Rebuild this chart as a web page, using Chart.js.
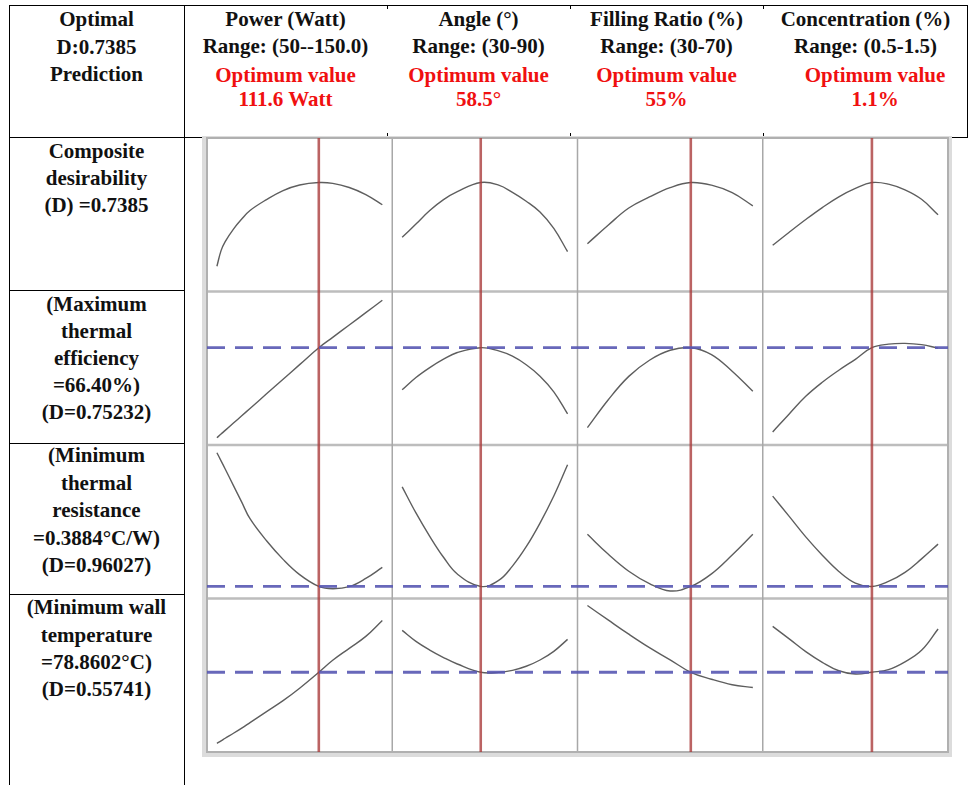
<!DOCTYPE html>
<html>
<head>
<meta charset="utf-8">
<script src="https://cdn.jsdelivr.net/npm/chart.js@4.4.1/dist/chart.umd.min.js"></script>
<style>
  body { margin: 0; width: 969px; height: 785px; overflow: hidden; position: relative; background: #fff;
         font-family: "Liberation Serif", "Times New Roman", serif; font-weight: bold; font-size: 21px; color: #111; }
  .t { position: absolute; text-align: center; white-space: nowrap; }
  .red { color: #f01010; }
  .ln { position: absolute; background: #000; }
  canvas#optPlot { position: absolute; left: 202px; top: 136px; }
</style>
</head>
<body>
<!-- table rules -->
<div class="ln" style="left:9px;top:5px;width:959px;height:1px"></div>
<div class="ln" style="left:967px;top:5px;width:1px;height:133px"></div>
<div class="ln" style="left:9px;top:5px;width:1px;height:780px"></div>
<div class="ln" style="left:184px;top:5px;width:1px;height:780px"></div>
<div class="ln" style="left:9px;top:137px;width:193px;height:1px"></div>
<div class="ln" style="left:952px;top:137px;width:16px;height:1px"></div>
<div class="ln" style="left:9px;top:290px;width:175px;height:1px"></div>
<div class="ln" style="left:9px;top:443px;width:175px;height:1px"></div>
<div class="ln" style="left:9px;top:594px;width:175px;height:1px"></div>
<div class="ln" style="left:387px;top:5px;width:1px;height:4px"></div>
<div class="ln" style="left:570px;top:5px;width:1px;height:4px"></div>
<div class="ln" style="left:763px;top:5px;width:1px;height:4px"></div>
<div class="ln" style="left:387px;top:133px;width:1px;height:4px"></div>
<div class="ln" style="left:570px;top:133px;width:1px;height:4px"></div>
<div class="ln" style="left:763px;top:133px;width:1px;height:4px"></div>

<!-- header -->
<div class="t" style="left:9px;width:175px;top:6px;line-height:27.5px">Optimal<br>D:0.7385<br>Prediction</div>
<div class="t" style="left:184px;width:203px;top:6px;line-height:27px">Power (Watt)<br>Range: (50--150.0)</div>
<div class="t red" style="left:184px;width:203px;top:62.5px;line-height:24.3px">Optimum value<br>111.6 Watt</div>
<div class="t" style="left:387px;width:183px;top:6px;line-height:27px">Angle (°)<br>Range: (30-90)</div>
<div class="t red" style="left:387px;width:183px;top:62.5px;line-height:24.3px">Optimum value<br>58.5°</div>
<div class="t" style="left:570px;width:193px;top:6px;line-height:27px">Filling Ratio (%)<br>Range: (30-70)</div>
<div class="t red" style="left:570px;width:193px;top:62.5px;line-height:24.3px">Optimum value<br>55%</div>
<div class="t" style="left:763px;width:205px;top:6px;line-height:27px">Concentration (%)<br>Range: (0.5-1.5)</div>
<div class="t red" style="left:780px;width:190px;top:62.5px;line-height:24.3px">Optimum value<br>1.1%</div>

<!-- response labels -->
<div class="t" style="left:9px;width:175px;top:137.6px;line-height:27.2px">Composite<br>desirability<br>(D) =0.7385</div>
<div class="t" style="left:9px;width:175px;top:291px;line-height:27.1px">(Maximum<br>thermal<br>efficiency<br>=66.40%)<br>(D=0.75232)</div>
<div class="t" style="left:9px;width:175px;top:442px;line-height:27.6px">(Minimum<br>thermal<br>resistance<br>=0.3884°C/W)<br>(D=0.96027)</div>
<div class="t" style="left:9px;width:175px;top:594.3px;line-height:27.2px">(Minimum wall<br>temperature<br>=78.8602°C)<br>(D=0.55741)</div>

<canvas id="optPlot" width="750" height="621"></canvas>

<script>
// factor settings along each column
const powerX = [50, 52.5, 55, 60, 65, 70, 80, 90, 100, 111.6, 120, 130, 140, 150];
const angleX = [30, 35, 40, 45, 50, 58.5, 65, 70, 75, 80, 85, 90];
const fillX = [30, 35, 40, 45, 50, 55, 60, 65, 70];
const concX = [0.5, 0.6, 0.7, 0.8, 0.9, 1.0, 1.1, 1.2, 1.3, 1.4, 1.5];

// optimum setting of each factor, predicted response at optimum (row 1 has no reference line)
const optimumX = [111.6, 58.5, 55, 1.1];
const optimumY = [null, 66.40, 0.3884, 78.8602];

// composite desirability
const desPower = [0.171, 0.277, 0.338, 0.423, 0.491, 0.549, 0.623, 0.684, 0.722, 0.7385, 0.733, 0.705, 0.657, 0.588];
const desAngle = [0.367, 0.457, 0.549, 0.623, 0.677, 0.7385, 0.721, 0.672, 0.612, 0.539, 0.428, 0.270];
const desFill = [0.324, 0.449, 0.566, 0.641, 0.704, 0.7385, 0.721, 0.670, 0.581];
const desConc = [0.313, 0.402, 0.488, 0.569, 0.642, 0.699, 0.7385, 0.728, 0.689, 0.625, 0.520];

// thermal efficiency (%)
const effPower = [57.43, 57.79, 58.16, 58.89, 59.61, 60.34, 61.8, 63.25, 64.71, 66.4, 67.43, 68.66, 69.89, 71.13];
const effAngle = [62.2, 63.43, 64.42, 65.26, 65.92, 66.4, 66.08, 65.55, 64.7, 63.56, 62.0, 59.8];
const effFill = [58.43, 61.19, 63.54, 65.15, 66.14, 66.4, 65.71, 64.05, 62.05];
const effConc = [58.0, 59.8, 61.55, 62.95, 64.15, 65.24, 66.4, 66.75, 66.83, 66.7, 66.35];

// thermal resistance (°C/W)
const resPower = [0.655, 0.6388, 0.6226, 0.5894, 0.5564, 0.5234, 0.4794, 0.4424, 0.412, 0.3884, 0.3838, 0.388, 0.4044, 0.4264];
const resAngle = [0.587, 0.535, 0.4884, 0.4466, 0.4132, 0.3884, 0.4004, 0.429, 0.4676, 0.5148, 0.5688, 0.6312];
const resFill = [0.4924, 0.453, 0.4188, 0.3942, 0.3794, 0.3884, 0.4136, 0.4512, 0.4924];
const resConc = [0.5684, 0.528, 0.4872, 0.4508, 0.4184, 0.3952, 0.3884, 0.3984, 0.4164, 0.4434, 0.4728];

// wall temperature (°C)
const tempPower = [71.73, 71.98, 72.24, 72.74, 73.26, 73.81, 74.91, 76.01, 77.26, 78.86, 80.06, 81.26, 82.46, 84.06];
const tempAngle = [83.06, 81.96, 81.09, 80.34, 79.69, 78.86, 78.85, 79.05, 79.46, 80.09, 80.96, 82.16];
const tempFill = [85.56, 84.11, 82.68, 81.33, 80.11, 78.86, 78.16, 77.61, 77.33];
const tempConc = [83.46, 82.21, 80.93, 79.86, 79.01, 78.68, 78.86, 79.13, 79.91, 81.06, 83.2];

const colX = [powerX, angleX, fillX, concX];
const rowY = [
  [desPower, desAngle, desFill, desConc],
  [effPower, effAngle, effFill, effConc],
  [resPower, resAngle, resFill, resConc],
  [tempPower, tempAngle, tempFill, tempConc],
];

// axis ranges (factor range padded like Minitab, response ranges per row)
const colRange = [[44, 156], [26.4, 93.6], [27.6, 72.4], [0.44, 1.56]];
const rowRange = [[0, 1.0405], [56.7, 72.0], [0.3644, 0.6704], [70.86, 86.26]];
const colKeys = ["c1", "c2", "c3", "c4"];
const rowKeys = ["r1", "r2", "r3", "r4"];

const scales = {};
colKeys.forEach((k, i) => {
  scales[k] = { type: "linear", axis: "x", position: "bottom", stack: "cols", stackWeight: 1, weight: i + 1,
    min: colRange[i][0], max: colRange[i][1], display: false };
});
scales.xAll = { type: "linear", axis: "x", position: "bottom", min: 0, max: 1, display: false };
rowKeys.forEach((k, i) => {
  scales[k] = { type: "linear", axis: "y", position: "left", stack: "rows", stackWeight: 1, weight: 4 - i,
    min: rowRange[i][0], max: rowRange[i][1], display: false };
});
scales.yAll = { type: "linear", axis: "y", position: "left", min: 0, max: 1, display: false };

const datasets = [];
rowKeys.forEach((rk, r) => {
  colKeys.forEach((ck, c) => {
    datasets.push({
      data: colX[c].map((x, j) => ({ x, y: rowY[r][c][j] })),
      xAxisID: ck, yAxisID: rk,
      showLine: true, borderColor: "#5e5e5e", borderWidth: 1.4, pointRadius: 0,
      tension: 0.4, order: 3,
    });
  });
});
colKeys.forEach((ck, c) => {
  datasets.push({
    data: [{ x: optimumX[c], y: 0 }, { x: optimumX[c], y: 1 }],
    xAxisID: ck, yAxisID: "yAll",
    showLine: true, borderColor: "rgba(170,60,60,0.8)", borderWidth: 2.6, pointRadius: 0, order: 2,
  });
});
rowKeys.forEach((rk, r) => {
  if (optimumY[r] === null) return;
  datasets.push({
    data: [{ x: 0, y: optimumY[r] }, { x: 1, y: optimumY[r] }],
    xAxisID: "xAll", yAxisID: rk,
    showLine: true, borderColor: "rgba(88,88,178,0.9)", borderWidth: 2.8, borderDash: [18, 10],
    pointRadius: 0, order: 1,
  });
});

const panelFrame = {
  id: "panelFrame",
  beforeDatasetsDraw(chart) {
    const { ctx, chartArea: a } = chart;
    const seg = (x1, y1, x2, y2) => { ctx.beginPath(); ctx.moveTo(x1, y1); ctx.lineTo(x2, y2); ctx.stroke(); };
    ctx.save();
    ctx.fillStyle = "#dcdcdc";
    ctx.fillRect(0, 0, chart.width, chart.height);
    ctx.fillStyle = "#fff";
    ctx.fillRect(a.left, a.top, a.width, a.height);
    ctx.strokeStyle = "#bdbdbd";
    ctx.lineWidth = 2.5;
    rowKeys.slice(0, -1).forEach((k) => seg(a.left, chart.scales[k].bottom, a.right, chart.scales[k].bottom));
    ctx.strokeStyle = "#a8a8a8";
    ctx.lineWidth = 1.5;
    colKeys.slice(0, -1).forEach((k) => seg(chart.scales[k].right, a.top, chart.scales[k].right, a.bottom));
    ctx.strokeStyle = "#b0b0b0";
    ctx.lineWidth = 2;
    ctx.strokeRect(a.left, a.top, a.width, a.height);
    ctx.restore();
  },
};

const ctx = document.querySelector("canvas#optPlot").getContext("2d");
const optPlot = new Chart(ctx, {
  type: "scatter",
  data: { datasets },
  options: {
    responsive: false,
    animation: false,
    devicePixelRatio: 1,
    layout: { padding: { left: 5, top: 2, right: 4, bottom: 5 } },
    scales,
    plugins: { legend: { display: false }, tooltip: { enabled: false } },
  },
  plugins: [panelFrame],
});
</script>
</body>
</html>
